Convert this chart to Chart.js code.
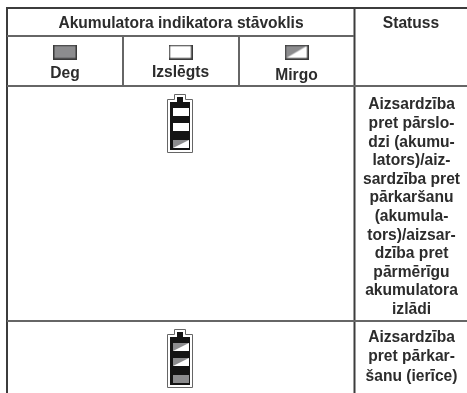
<!DOCTYPE html>
<html>
<head>
<meta charset="utf-8">
<style>
  html, body { margin: 0; padding: 0; background: #fff; }
  canvas { display: block; }
</style>
</head>
<body>
<canvas id="c" width="467" height="393"></canvas>
<script src="https://cdn.jsdelivr.net/npm/chart.js@4"></script>
<script>
// table content
const title = "Akumulatora indikatora stāvoklis";
const statusTitle = "Statuss";
const legendStates = ["on", "off", "blink"];
const legendLabels = ["Deg", "Izslēgts", "Mirgo"];

// battery cells top to bottom, one list per row
const row1Cells = ["off", "off", "blink"];
const row2Cells = ["blink", "blink", "on"];

const row1Status = ["Aizsardzība", "pret pārslo-", "dzi (akumu-", "lators)/aiz-", "sardzība pret", "pārkaršanu",
  "(akumula-", "tors)/aizsar-", "dzība pret", "pārmērīgu", "akumulatora", "izlādi"];
const row2Status = ["Aizsardzība", "pret pārkar-", "šanu (ierīce)"];

// layout, in picture pixels
const W = 467, H = 393;
const LINE_DARK = "#3c3c3c", LINE_GREY = "#666666", TEXT = "#2c2c2c", FILL = "#8c8c8e";
const FONT = 'bold 15.6px "Liberation Sans", Arial, sans-serif';
const legendX = [65, 180.5, 296.5];
const legendLabelY = [74, 73, 76];
const statusX = 411.5;
const LINE_PITCH = 18.6;

function makeCanvas(w, h, draw) {
  const cv = document.createElement("canvas");
  cv.width = w; cv.height = h;
  draw(cv.getContext("2d"));
  return cv;
}

function paintState(ctx, state, x, y, w, h) {
  ctx.fillStyle = "#fff";
  ctx.fillRect(x, y, w, h);
  if (state === "on") {
    ctx.fillStyle = FILL;
    ctx.fillRect(x, y, w, h);
  } else if (state === "blink") {
    ctx.fillStyle = FILL;
    ctx.beginPath();
    ctx.moveTo(x, y);
    ctx.lineTo(x + w, y);
    ctx.lineTo(x, y + h);
    ctx.closePath();
    ctx.fill();
  }
}

function swatch(state) {
  return makeCanvas(24, 15, ctx => {
    paintState(ctx, state, 1, 1, 22, 13);
    ctx.strokeStyle = "#3a3a3a";
    ctx.lineWidth = 1.5;
    ctx.strokeRect(0.75, 0.75, 22.5, 13.5);
  });
}

function cellIcon(state) {
  return makeCanvas(16, 8, ctx => paintState(ctx, state, 0, 0, 16, 8));
}

const batteryIcon = makeCanvas(26, 60, ctx => {
  // thin outline with the terminal nub, then the black body inside it
  ctx.strokeStyle = "#666";
  ctx.lineWidth = 1;
  ctx.beginPath();
  ctx.moveTo(0.5, 58.5);
  ctx.lineTo(0.5, 5.5);
  ctx.lineTo(7.5, 5.5);
  ctx.lineTo(7.5, 0.5);
  ctx.lineTo(18.5, 0.5);
  ctx.lineTo(18.5, 5.5);
  ctx.lineTo(25.5, 5.5);
  ctx.lineTo(25.5, 58.5);
  ctx.closePath();
  ctx.stroke();
  ctx.fillStyle = "#141414";
  ctx.fillRect(3, 8, 20, 48);
  ctx.fillRect(10, 3, 6, 5);
});

const iconX = 180;
const batteryY = [124, 359];
const cellOffsets = [-12, 3, 20];

function cellPoints(cells, centerY) {
  return cells.map((s, i) => ({ x: iconX + 1, y: centerY + cellOffsets[i] }));
}

function rule(x1, y1, x2, y2, color) {
  return {
    type: "line",
    data: [{ x: x1, y: y1 }, { x: x2, y: y2 }],
    borderColor: color, borderWidth: 2, pointRadius: 0, order: 5
  };
}

const iconLayer = {
  type: "scatter",
  order: 1,
  data: [{ x: iconX, y: batteryY[0] }, { x: iconX, y: batteryY[1] }],
  pointStyle: batteryIcon,
  pointRadius: 13
};
const cellLayer = {
  type: "scatter",
  order: 0,
  data: cellPoints(row1Cells, batteryY[0]).concat(cellPoints(row2Cells, batteryY[1])),
  pointStyle: row1Cells.concat(row2Cells).map(cellIcon),
  pointRadius: 8
};
const swatchLayer = {
  type: "scatter",
  order: 0,
  data: legendX.map(x => ({ x: x, y: 52 })),
  pointStyle: legendStates.map(swatch),
  pointRadius: 12
};

// real text, placed through the scales
const tableText = {
  id: "tableText",
  afterDatasetsDraw(chart) {
    const { ctx, scales } = chart;
    const put = (s, x, y) => ctx.fillText(s, scales.x.getPixelForValue(x), scales.y.getPixelForValue(y));
    ctx.save();
    ctx.font = FONT;
    ctx.fillStyle = TEXT;
    ctx.textAlign = "center";
    ctx.textBaseline = "middle";
    put(title, 181, 24);
    put(statusTitle, 411, 24);
    legendLabels.forEach((s, i) => put(s, legendX[i], legendLabelY[i]));
    row1Status.forEach((s, i) => put(s, statusX, 105 + i * LINE_PITCH));
    row2Status.forEach((s, i) => put(s, statusX, 338 + i * LINE_PITCH + (i === 2 ? 1 : 0)));
    ctx.restore();
  }
};

new Chart(document.getElementById("c"), {
  type: "scatter",
  data: {
    datasets: [
      rule(6, 8, W, 8, LINE_DARK),
      rule(7, 36, 354, 36, LINE_GREY),
      rule(7, 86, W, 86, LINE_GREY),
      rule(7, 321, W, 321, LINE_GREY),
      rule(7, 8, 7, H, LINE_DARK),
      rule(123, 36, 123, 86, LINE_GREY),
      rule(239, 36, 239, 86, LINE_GREY),
      rule(354.5, 8, 354.5, H, LINE_DARK),
      iconLayer, cellLayer, swatchLayer
    ]
  },
  options: {
    responsive: false,
    animation: false,
    layout: { padding: 0, autoPadding: false },
    clip: false,
    plugins: { legend: { display: false }, tooltip: { enabled: false } },
    scales: {
      x: { type: "linear", min: 0, max: W, display: false },
      y: { type: "linear", min: 0, max: H, reverse: true, display: false }
    }
  },
  plugins: [tableText]
});
</script>
</body>
</html>
